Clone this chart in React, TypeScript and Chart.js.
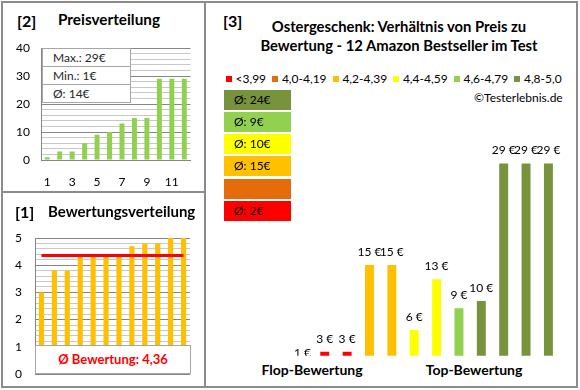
import React, { useEffect, useRef } from 'react';
import { Chart, registerables } from 'chart.js';

Chart.register(...registerables);

const FONT = 'Lato, "Noto Sans", sans-serif';

// ---------- data ----------
const rankLabels = ['1', '2', '3', '4', '5', '6', '7', '8', '9', '10', '11', '12'];
const pricesSorted = [1, 3, 3, 6, 9, 10, 13, 15, 15, 29, 29, 29];
const ratingsSorted = [3.0, 3.8, 3.8, 4.3, 4.3, 4.4, 4.4, 4.7, 4.8, 4.8, 5.0, 5.0];
const pricesByRating = [1, 3, 3, 15, 15, 6, 13, 9, 10, 29, 29, 29];
const classLabels = ['<3,99', '4,0-4,19', '4,2-4,39', '4,4-4,59', '4,6-4,79', '4,8-5,0'];
const classLower = [0, 4.0, 4.2, 4.4, 4.6, 4.8];
const classColors = ['#FF0000', '#E46C0A', '#FFC000', '#FFFF00', '#92D050', '#77933C'];
const groupLabels = ['Flop-Bewertung', 'Top-Bewertung'];
const priceTickLabels = ['0', '10', '20', '30', '40'];
const ratingTickLabels = ['0', '1', '2', '3', '4', '5'];

const classOf = (r: number) => {
  let c = 0;
  classLower.forEach((lo, i) => { if (r >= lo - 1e-9) c = i; });
  return c;
};

const maxPrice = Math.max(...pricesSorted);
const minPrice = Math.min(...pricesSorted);
const avgPrice = Math.round(pricesSorted.reduce((a, b) => a + b, 0) / pricesSorted.length);
const avgRating = ratingsSorted.reduce((a, b) => a + b, 0) / ratingsSorted.length;
const avgRatingText = avgRating.toFixed(2).replace('.', ',');
const classAvgText = classLabels.map((_, ci) => {
  const vals = pricesByRating.filter((_, i) => classOf(ratingsSorted[i]) === ci);
  if (!vals.length) return '';
  return 'Ø: ' + Math.round(vals.reduce((a, b) => a + b, 0) / vals.length) + '€';
});

const GRID_MAJOR = '#868686';
const GRID_MINOR = '#c8c8c8';
const isInt = (v: number, step: number) => Math.abs(v / step - Math.round(v / step)) < 1e-6;

// ---------- chart configs ----------
const priceConfig: any = {
  type: 'bar',
  data: {
    labels: rankLabels,
    datasets: [{ data: pricesSorted, backgroundColor: '#92D050', barPercentage: 0.4, categoryPercentage: 1 }],
  },
  options: {
    responsive: false,
    animation: false,
    layout: { padding: { left: 0, top: 22, right: 9.5, bottom: 0 } },
    plugins: { legend: { display: false }, tooltip: { enabled: false } },
    scales: {
      x: {
        grid: { display: false, drawTicks: false },
        border: { color: GRID_MAJOR },
        ticks: {
          autoSkip: false, maxRotation: 0, padding: 15, color: '#000',
          font: { family: FONT, size: 12 },
          callback: (_v: any, i: number) => (i % 2 === 0 ? rankLabels[i] : ''),
        },
        afterFit: (s: any) => { s.height = 32; },
      },
      y: {
        min: 0, max: 40,
        grid: { drawTicks: false, color: (c: any) => (isInt(c.tick.value, 10) ? GRID_MAJOR : GRID_MINOR) },
        border: { color: GRID_MAJOR },
        ticks: {
          stepSize: 2, autoSkip: false, maxTicksLimit: 100, padding: 11, color: '#000', font: { family: FONT, size: 12 },
          callback: (v: number) => (isInt(v, 10) ? priceTickLabels[Math.round(v / 10)] : ''),
        },
        afterFit: (s: any) => { s.width = 41; },
      },
    },
  },
};

const ratingConfig: any = {
  type: 'bar',
  data: {
    labels: rankLabels,
    datasets: [
      {
        type: 'line', data: rankLabels.map(() => avgRating), borderColor: '#FF0000', borderWidth: 3,
        pointRadius: 0, order: 0,
      },
      { data: ratingsSorted, backgroundColor: '#FFC000', barPercentage: 0.4, categoryPercentage: 1, order: 1 },
    ],
  },
  options: {
    responsive: false,
    animation: false,
    layout: { padding: { left: 0, top: 22, right: 10, bottom: 22 } },
    plugins: { legend: { display: false }, tooltip: { enabled: false } },
    scales: {
      x: { display: false },
      y: {
        min: 0, max: 5,
        grid: { drawTicks: false, color: (c: any) => (isInt(c.tick.value, 1) ? GRID_MAJOR : GRID_MINOR) },
        border: { color: GRID_MAJOR },
        ticks: {
          stepSize: 0.2, autoSkip: false, maxTicksLimit: 100, padding: 13, color: '#000', font: { family: FONT, size: 12 },
          callback: (v: number) => (isInt(v, 1) ? ratingTickLabels[Math.round(v)] : ''),
        },
        afterFit: (s: any) => { s.width = 35; },
      },
    },
  },
};

const barLabelPlugin = {
  id: 'barLabels',
  afterDatasetsDraw(chart: any) {
    const { ctx, chartArea } = chart;
    const meta = chart.getDatasetMeta(0);
    ctx.save();
    ctx.beginPath();
    ctx.rect(0, 0, chart.width, chartArea.bottom);
    ctx.clip();
    ctx.font = `12px ${FONT}`;
    ctx.fillStyle = '#000';
    ctx.textAlign = 'center';
    ctx.textBaseline = 'middle';
    meta.data.forEach((el: any, i: number) => {
      ctx.fillText(`${pricesByRating[i]} €`, el.x, el.y - 13);
    });
    ctx.restore();
  },
};

const mainConfig: any = {
  type: 'bar',
  data: {
    labels: rankLabels,
    datasets: [{
      data: pricesByRating,
      backgroundColor: ratingsSorted.map((r) => classColors[classOf(r)]),
      barPercentage: 0.4, categoryPercentage: 1, clip: 0,
    }],
  },
  options: {
    responsive: false,
    animation: false,
    layout: { padding: { left: 85.2, top: 24, right: 16.4, bottom: 4.3 } },
    plugins: { legend: { display: false }, tooltip: { enabled: false } },
    scales: {
      x: { display: false },
      y: { display: false, min: 2.45, max: 40 },
    },
  },
  plugins: [barLabelPlugin],
};

// ---------- components ----------
function ChartCanvas({ left, top, width, height, config }: any) {
  const ref = useRef<HTMLCanvasElement>(null);
  useEffect(() => {
    const chart = new Chart(ref.current as HTMLCanvasElement, config);
    return () => chart.destroy();
  }, []);
  return (
    <canvas ref={ref} width={width} height={height}
      style={{ position: 'absolute', left, top, width, height }} />
  );
}

function T({ x, y, size = 12, bold = false, color = '#000', align = 'left', children }: any) {
  const style: any = {
    position: 'absolute', top: y - size / 2, fontSize: size, lineHeight: `${size}px`,
    fontWeight: bold ? 700 : 400, color, whiteSpace: 'nowrap',
  };
  if (align === 'left') style.left = x;
  else if (align === 'right') style.right = 580 - x;
  else { style.left = x; style.transform = 'translateX(-50%)'; }
  return <div style={style}>{children}</div>;
}

const LINE = '#8c8c8c';

export default function App() {
  const boxOrder = [5, 4, 3, 2, 1, 0];
  return (
    <div style={{ position: 'absolute', left: 0, top: 0, width: 580, height: 390, background: '#fff', fontFamily: FONT, overflow: 'hidden' }}>
      {/* frames */}
      <div style={{ position: 'absolute', left: 1, top: 1, width: 577, height: 387, border: `2px solid ${LINE}`, boxSizing: 'border-box' }} />
      <div style={{ position: 'absolute', left: 204, top: 1, width: 2, height: 387, background: LINE }} />
      <div style={{ position: 'absolute', left: 1, top: 191, width: 204, height: 2, background: LINE }} />

      {/* panel 2 */}
      <T x={17} y={21} size={16} bold>[2]</T>
      <T x={58} y={20} size={15.3} bold>Preisverteilung</T>
      <ChartCanvas left={0} top={26} width={200} height={166} config={priceConfig} />
      <div style={{ position: 'absolute', left: 42, top: 48, width: 89, height: 55, background: '#fff', border: '1px solid #a6a6a6', boxSizing: 'border-box' }}>
        {[`Max.: ${maxPrice}€`, `Min.: ${minPrice}€`, `Ø: ${avgPrice}€`].map((t, i) => (
          <div key={i} style={{ height: i < 2 ? 18 : 17, borderBottom: i < 2 ? '1px solid #a6a6a6' : 'none', fontSize: 12, lineHeight: '18px', paddingLeft: 10, color: '#262626', boxSizing: 'border-box' }}>{t}</div>
        ))}
      </div>

      {/* panel 1 */}
      <ChartCanvas left={0} top={216} width={200} height={180} config={ratingConfig} />
      <T x={15} y={212} size={16} bold>[1]</T>
      <T x={48} y={211} size={15} bold>Bewertungsverteilung</T>
      <div style={{ position: 'absolute', left: 35, top: 345, width: 156, height: 29, background: '#fff', border: '1px solid #a6a6a6', boxSizing: 'border-box', color: '#FF0000', fontWeight: 700, fontSize: 13, lineHeight: '27px', textAlign: 'center' }}>
        Ø Bewertung: {avgRatingText}
      </div>

      {/* panel 3 */}
      <T x={223} y={20.5} size={16} bold>[3]</T>
      <T x={399} y={26} size={14.8} bold align="center">Ostergeschenk: Verhältnis von Preis zu</T>
      <T x={399} y={45.7} size={14.8} bold align="center">Bewertung - 12 Amazon Bestseller im Test</T>
      <div style={{ position: 'absolute', left: 226, top: 71, height: 15, display: 'flex', alignItems: 'center', fontSize: 12, whiteSpace: 'nowrap' }}>
        {classLabels.map((l, i) => (
          <div key={i} style={{ display: 'flex', alignItems: 'center', marginRight: 6.3 }}>
            <div style={{ width: 6, height: 6, background: classColors[i], marginRight: 3.5 }} />
            <span>{l}</span>
          </div>
        ))}
      </div>
      <T x={562.7} y={98.3} size={12} align="right">©Testerlebnis.de</T>
      <ChartCanvas left={206} top={60} width={370} height={300} config={mainConfig} />
      {boxOrder.map((ci, k) => (
        <div key={ci} style={{ position: 'absolute', left: 224, top: 90 + k * 22.15, width: 67, height: 20, background: classColors[ci], fontSize: 12, lineHeight: '20px', paddingLeft: 10, boxSizing: 'border-box' }}>
          {classAvgText[ci]}
        </div>
      ))}
      <T x={312} y={370} size={14} bold align="center">{groupLabels[0]}</T>
      <T x={474} y={370} size={14} bold align="center">{groupLabels[1]}</T>
    </div>
  );
}
